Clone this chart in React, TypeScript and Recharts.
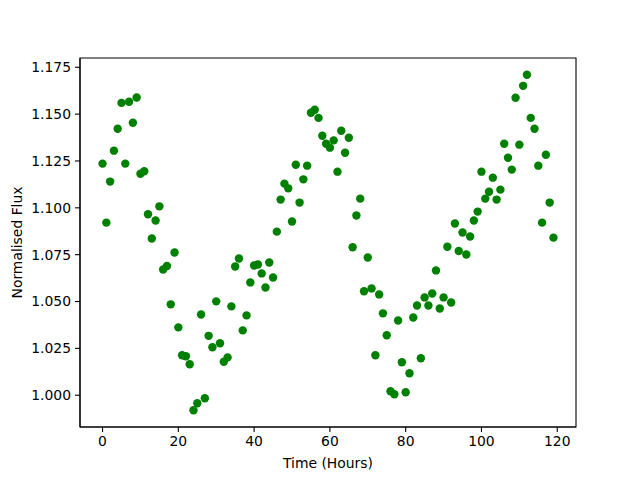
import React from 'react';
import { ScatterChart, Scatter, XAxis, YAxis, ReferenceArea, Label } from 'recharts';

const hours = [
  0, 1, 2, 3, 4, 5, 6, 7, 8, 9, 10, 11, 12, 13, 14, 15, 16, 17, 18, 19,
  20, 21, 22, 23, 24, 25, 26, 27, 28, 29, 30, 31, 32, 33, 34, 35, 36, 37, 38, 39,
  40, 41, 42, 43, 44, 45, 46, 47, 48, 49, 50, 51, 52, 53, 54, 55, 56, 57, 58, 59,
  60, 61, 62, 63, 64, 65, 66, 67, 68, 69, 70, 71, 72, 73, 74, 75, 76, 77, 78, 79,
  80, 81, 82, 83, 84, 85, 86, 87, 88, 89, 90, 91, 92, 93, 94, 95, 96, 97, 98, 99,
  100, 101, 102, 103, 104, 105, 106, 107, 108, 109, 110, 111, 112, 113, 114, 115, 116, 117, 118, 119,
];

const flux = [
  1.1236, 1.0921, 1.1140, 1.1305, 1.1422, 1.1560, 1.1236, 1.1566, 1.1454, 1.1589,
  1.1182, 1.1195, 1.0966, 1.0836, 1.0932, 1.1008, 1.0671, 1.0690, 1.0485, 1.0762,
  1.0362, 1.0213, 1.0208, 1.0165, 0.9920, 0.9957, 1.0431, 0.9984, 1.0317, 1.0256,
  1.0501, 1.0277, 1.0179, 1.0202, 1.0474, 1.0687, 1.0730, 1.0346, 1.0426, 1.0602,
  1.0692, 1.0698, 1.0650, 1.0575, 1.0708, 1.0628, 1.0873, 1.1044, 1.1129, 1.1104,
  1.0927, 1.1230, 1.1028, 1.1152, 1.1225, 1.1507, 1.1523, 1.1480, 1.1385, 1.1342,
  1.1321, 1.1360, 1.1193, 1.1411, 1.1294, 1.1374, 1.0790, 1.0959, 1.1049, 1.0555,
  1.0735, 1.0570, 1.0213, 1.0538, 1.0437, 1.0320, 1.0021, 1.0005, 1.0399, 1.0176,
  1.0016, 1.0117, 1.0415, 1.0479, 1.0197, 1.0522, 1.0479, 1.0543, 1.0666, 1.0463,
  1.0522, 1.0792, 1.0495, 1.0916, 1.0770, 1.0868, 1.0751, 1.0847, 1.0932, 1.0980,
  1.1193, 1.1049, 1.1086, 1.1161, 1.1044, 1.1097, 1.1342, 1.1267, 1.1204, 1.1587,
  1.1337, 1.1651, 1.1710, 1.1480, 1.1422, 1.1225, 1.0921, 1.1283, 1.1028, 1.0841,
];

const xTicks = [0, 20, 40, 60, 80, 100, 120];
const yTicks = [1.0, 1.025, 1.05, 1.075, 1.1, 1.125, 1.15, 1.175];
const xTitle = 'Time (Hours)';
const yTitle = 'Normalised Flux';

const data = hours.map((h, i) => ({ hours: h, flux: flux[i] }));

const hMin = Math.min(...hours);
const hMax = Math.max(...hours);
const fMin = Math.min(...flux);
const fMax = Math.max(...flux);
const xPad = (hMax - hMin) * 0.05;
const yPad = (fMax - fMin) * 0.05;
const xDomain: [number, number] = [hMin - xPad, hMax + xPad];
const yDomain: [number, number] = [fMin - yPad, fMax + yPad];

const FONT = 'DejaVu Sans';
const FS = 13.9;
const tickStyle = { fill: '#000', fontSize: FS, fontFamily: FONT };

const XTitle = (props: any) => {
  const vb = props.viewBox || { x: 80, y: 427, width: 496, height: 53 };
  return (
    <text
      x={vb.x + vb.width / 2}
      y={vb.y + 41}
      textAnchor="middle"
      fill="#000"
      fontSize={FS}
      fontFamily={FONT}
    >
      {xTitle}
    </text>
  );
};

const YTitle = (props: any) => {
  const vb = props.viewBox || { x: 0, y: 58, width: 80, height: 369 };
  const cx = 17;
  const cy = vb.y + vb.height / 2;
  return (
    <text
      x={cx}
      y={cy}
      transform={`rotate(-90, ${cx}, ${cy})`}
      textAnchor="middle"
      dominantBaseline="central"
      fill="#000"
      fontSize={FS}
      fontFamily={FONT}
    >
      {yTitle}
    </text>
  );
};

const Dot = (p: any) => <circle cx={p.cx} cy={p.cy} r={4.2} fill="#008000" />;

export default function App() {
  return (
    <div style={{ position: 'absolute', left: 0, top: 0, width: 640, height: 480, background: '#fff' }}>
      <ScatterChart width={640} height={480} margin={{ top: 58, right: 64, bottom: 0, left: 0 }}>
        <XAxis
          type="number"
          dataKey="hours"
          domain={xDomain}
          ticks={xTicks}
          allowDataOverflow
          height={53}
          tickSize={5}
          tickMargin={4}
          tick={tickStyle}
          axisLine={{ stroke: '#000', strokeWidth: 1.1 }}
          tickLine={{ stroke: '#000', strokeWidth: 1.1 }}
          tickFormatter={(v: number) => String(v)}
        >
          <Label content={XTitle} />
        </XAxis>
        <YAxis
          type="number"
          dataKey="flux"
          domain={yDomain}
          ticks={yTicks}
          allowDataOverflow
          width={80}
          tickSize={5}
          tickMargin={4}
          tick={tickStyle}
          axisLine={{ stroke: '#000', strokeWidth: 1.1 }}
          tickLine={{ stroke: '#000', strokeWidth: 1.1 }}
          tickFormatter={(v: number) => v.toFixed(3)}
        >
          <Label content={YTitle} />
        </YAxis>
        <ReferenceArea
          x1={xDomain[0]}
          x2={xDomain[1]}
          y1={yDomain[0]}
          y2={yDomain[1]}
          stroke="#000"
          strokeWidth={1.1}
          fill="none"
          fillOpacity={0}
          ifOverflow="visible"
        />
        <Scatter data={data} shape={Dot} isAnimationActive={false} />
      </ScatterChart>
    </div>
  );
}
